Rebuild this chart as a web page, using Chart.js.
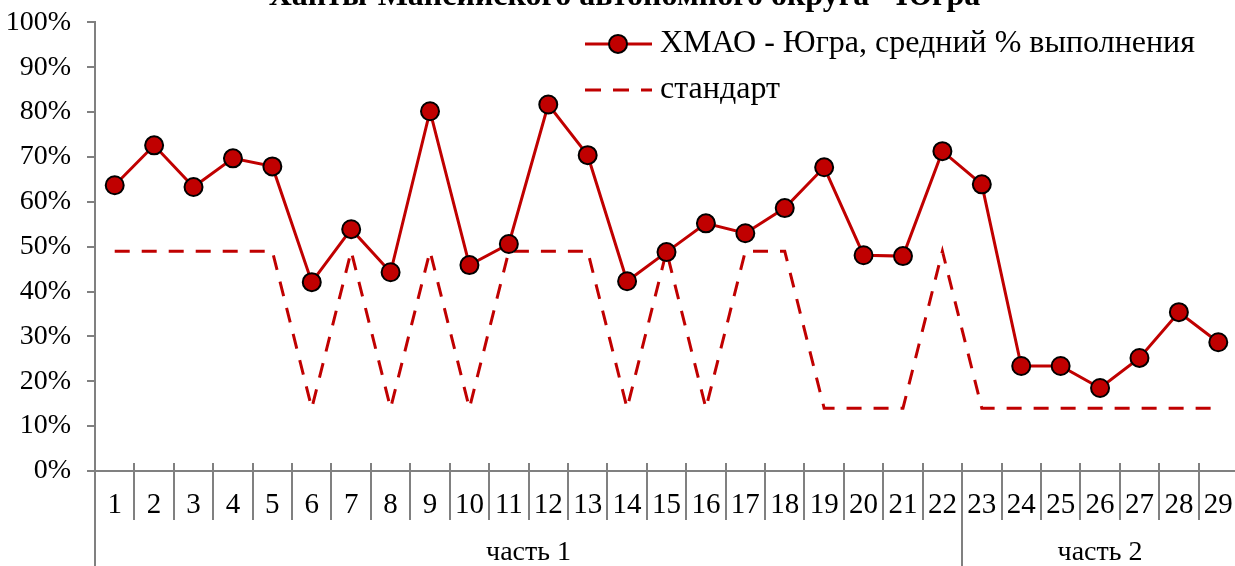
<!DOCTYPE html>
<html lang="ru">
<head>
    <meta charset="UTF-8">
    <title>ХМАО - Югра</title>
    <style>
        html, body {
            margin: 0;
            padding: 0;
            background: #fff;
            overflow: hidden;
            width: 1235px;
            height: 566px;
        }

        .chart-box {
            position: absolute;
            left: 0;
            top: -25px;
            width: 1249px;
            height: 591px;
        }
    </style>
</head>
<body>
    <div class="chart-box">
        <canvas id="resultChart" width="1249" height="591"></canvas>
    </div>
    <script src="https://cdn.jsdelivr.net/npm/chart.js"></script>
    <script>
        // task numbers
        const tasks = ['1', '2', '3', '4', '5', '6', '7', '8', '9', '10', '11', '12', '13', '14', '15',
            '16', '17', '18', '19', '20', '21', '22', '23', '24', '25', '26', '27', '28', '29'];
        // average % of completion
        const avgPercent = [63.7, 72.6, 63.3, 69.7, 67.9, 42.1, 53.9, 44.3, 80.2, 45.9, 50.6, 81.7, 70.4, 42.3, 48.8,
            55.2, 53.0, 58.6, 67.7, 48.1, 47.9, 71.3, 63.9, 23.4, 23.4, 18.5, 25.2, 35.4, 28.7];
        // standard
        const standard = [49, 49, 49, 49, 49, 14, 49, 14, 49, 14, 49, 49, 49, 14, 49,
            14, 49, 49, 14, 14, 14, 49, 14, 14, 14, 14, 14, 14, 14];
        // parts of the test
        const partNames = ['часть 1', 'часть 2'];
        const partSizes = [22, 7];
        const yTicks = [0, 10, 20, 30, 40, 50, 60, 70, 80, 90, 100];

        const RED = '#C00000';
        const GREY = '#808080';
        const FONT = "'Liberation Serif', 'Times New Roman', serif";

        // part labels under the tick numbers + the little tick stubs above the axis
        const partsPlugin = {
            id: 'parts',
            afterDraw(chart) {
                const ctx = chart.ctx;
                const x = chart.scales.x;
                const area = chart.chartArea;
                const step = x.getPixelForValue(1) - x.getPixelForValue(0);
                ctx.save();
                ctx.strokeStyle = GREY;
                ctx.lineWidth = 2;
                // stubs above the axis
                for (let i = 0; i <= tasks.length; i++) {
                    const px = Math.round(x.getPixelForValue(i) - step / 2);
                    ctx.beginPath();
                    ctx.moveTo(px, area.bottom - 8);
                    ctx.lineTo(px, area.bottom);
                    ctx.stroke();
                }
                // axis sticks out a bit left of the y axis
                ctx.beginPath();
                ctx.moveTo(area.left - 6, area.bottom);
                ctx.lineTo(area.left, area.bottom);
                ctx.stroke();
                let start = 0;
                ctx.fillStyle = '#000';
                ctx.font = '28px ' + FONT;
                ctx.textAlign = 'center';
                ctx.textBaseline = 'middle';
                partNames.forEach((name, k) => {
                    const left = x.getPixelForValue(start) - step / 2;
                    const right = x.getPixelForValue(start + partSizes[k] - 1) + step / 2;
                    ctx.beginPath();
                    ctx.moveTo(Math.round(left), area.bottom);
                    ctx.lineTo(Math.round(left), chart.height);
                    ctx.stroke();
                    ctx.fillText(name, (left + right) / 2, area.bottom + 82);
                    start += partSizes[k];
                });
                ctx.restore();
            }
        };

        // legend in the upper right of the plot
        const legendPlugin = {
            id: 'boxLegend',
            afterDraw(chart) {
                const ctx = chart.ctx;
                const area = chart.chartArea;
                const lx = area.left + 490;
                const rows = [area.top + 21.5, area.top + 67.5];
                ctx.save();
                ctx.strokeStyle = RED;
                ctx.lineWidth = 3;
                ctx.beginPath();
                ctx.moveTo(lx, rows[0]);
                ctx.lineTo(lx + 67, rows[0]);
                ctx.stroke();
                ctx.beginPath();
                ctx.arc(lx + 33, rows[0], 9, 0, Math.PI * 2);
                ctx.fillStyle = RED;
                ctx.fill();
                ctx.lineWidth = 2;
                ctx.strokeStyle = '#000';
                ctx.stroke();
                ctx.strokeStyle = RED;
                ctx.lineWidth = 3;
                ctx.setLineDash([16, 12]);
                ctx.beginPath();
                ctx.moveTo(lx, rows[1]);
                ctx.lineTo(lx + 67, rows[1]);
                ctx.stroke();
                ctx.setLineDash([]);
                ctx.fillStyle = '#000';
                ctx.font = '32px ' + FONT;
                ctx.textAlign = 'left';
                ctx.textBaseline = 'middle';
                ctx.fillText(chart.data.datasets[0].label, lx + 75, rows[0]);
                ctx.fillText(chart.data.datasets[1].label, lx + 75, rows[1]);
                ctx.restore();
            }
        };

        new Chart(document.getElementById('resultChart'), {
            type: 'line',
            data: {
                labels: tasks,
                datasets: [
                    {
                        label: 'ХМАО - Югра, средний % выполнения',
                        data: avgPercent,
                        borderColor: RED,
                        borderWidth: 3,
                        pointRadius: 9,
                        pointBackgroundColor: RED,
                        pointBorderColor: '#000',
                        pointBorderWidth: 2,
                        tension: 0
                    },
                    {
                        label: 'стандарт',
                        data: standard,
                        borderColor: RED,
                        borderWidth: 3,
                        borderDash: [15, 12],
                        pointRadius: 0,
                        tension: 0
                    }
                ]
            },
            options: {
                responsive: false,
                animation: false,
                layout: { padding: { left: 0, right: 0, top: 0, bottom: 0 } },
                plugins: {
                    legend: { display: false },
                    tooltip: { enabled: false },
                    title: {
                        display: true,
                        text: 'Ханты-Мансийского автономного округа - Югра',
                        color: '#000',
                        font: { family: FONT, size: 32, weight: 'bold' },
                        padding: { top: 3, bottom: 6 }
                    }
                },
                scales: {
                    x: {
                        offset: true,
                        afterFit: s => { s.height = 95; },
                        grid: {
                            offset: true,
                            drawOnChartArea: false,
                            drawTicks: true,
                            tickLength: 49,
                            color: GREY,
                            lineWidth: 2
                        },
                        border: { color: GREY, width: 2 },
                        ticks: {
                            color: '#000',
                            font: { family: FONT, size: 29 },
                            padding: -32,
                            maxRotation: 0,
                            autoSkip: false
                        }
                    },
                    y: {
                        min: 0,
                        max: 100,
                        afterFit: s => { s.width = 95; },
                        afterBuildTicks: s => { s.ticks = yTicks.map(v => ({ value: v })); },
                        grid: {
                            drawOnChartArea: false,
                            drawTicks: true,
                            tickLength: 8,
                            color: GREY,
                            lineWidth: 2
                        },
                        border: { color: GREY, width: 2 },
                        ticks: {
                            color: '#000',
                            font: { family: FONT, size: 28 },
                            padding: 16,
                            callback: v => v + '%'
                        }
                    }
                }
            },
            plugins: [partsPlugin, legendPlugin]
        });
    </script>
</body>
</html>
